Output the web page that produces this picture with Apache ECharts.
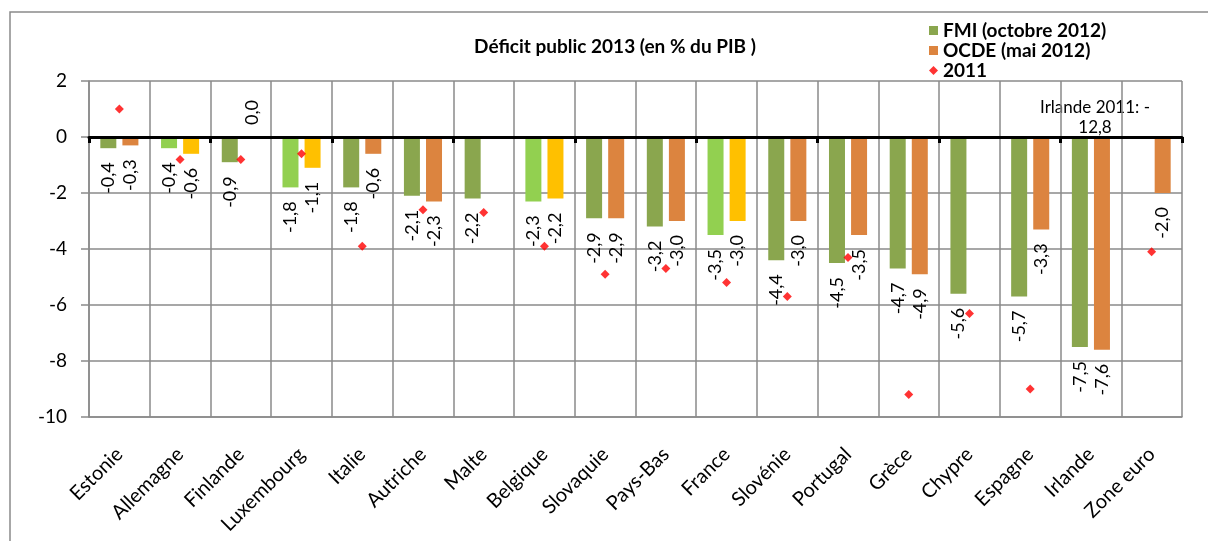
<!DOCTYPE html>
<html>
<head>
<meta charset="utf-8">
<script src="https://cdn.jsdelivr.net/npm/echarts@6/dist/echarts.min.js"></script>
<style>
  html, body { margin: 0; padding: 0; background: #fff; }
  #chart { width: 1208px; height: 541px; }
</style>
</head>
<body>
<div id="chart"></div>
<script>
const categories = ['Estonie', 'Allemagne', 'Finlande', 'Luxembourg', 'Italie', 'Autriche', 'Malte', 'Belgique',
  'Slovaquie', 'Pays-Bas', 'France', 'Slovénie', 'Portugal', 'Grèce', 'Chypre', 'Espagne', 'Irlande', 'Zone euro'];
const fmi = [-0.4, -0.4, -0.9, -1.8, -1.8, -2.1, -2.2, -2.3, -2.9, -3.2, -3.5, -4.4, -4.5, -4.7, -5.6, -5.7, -7.5, null];
const ocde = [-0.3, -0.6, 0.0, -1.1, -0.6, -2.3, null, -2.2, -2.9, -3.0, -3.0, -3.0, -3.5, -4.9, null, -3.3, -7.6, -2.0];
const deficit2011 = [1.0, -0.8, -0.8, -0.6, -3.9, -2.6, -2.7, -3.9, -4.9, -4.7, -5.2, -5.7, -4.3, -9.2, -6.3, -9.0, null, -4.1];
const yTicks = { min: -10, max: 2, interval: 2 };

// countries drawn with the lighter colours in the original
const highlighted = ['Allemagne', 'Luxembourg', 'Belgique', 'France'];

const FONT = 'Lato';
const OLIVE = '#8aa64e', ORANGE = '#dc843f', LIGHT_GREEN = '#92d050', GOLD = '#ffc000';

const fmt = v => v.toFixed(1).replace('.', ',');

const barLabel = {
  show: true,
  position: 'bottom',
  rotate: 90,
  align: 'right',
  verticalAlign: 'middle',
  distance: 14,
  color: '#000',
  fontFamily: FONT,
  fontSize: 18,
  formatter: p => fmt(p.value)
};

const toBarData = (values, base, light) => values.map((v, i) => {
  if (v === null) return null;
  const item = { value: v, itemStyle: { color: highlighted.includes(categories[i]) ? light : base } };
  if (v === 0) {
    item.label = { position: 'top', align: 'left', distance: 12 };
  }
  return item;
});

const chart = echarts.init(document.getElementById('chart'));

const option = {
  animation: false,
  title: {
    text: 'Déficit public 2013 (en % du PIB )',
    left: 610,
    top: 32,
    textAlign: 'center',
    textStyle: { fontFamily: FONT, fontSize: 19, fontWeight: 'bold', color: '#000' }
  },
  legend: {
    orient: 'vertical',
    left: 924,
    top: 16,
    itemWidth: 9,
    itemHeight: 9,
    itemGap: 1,
    textStyle: { fontFamily: FONT, fontSize: 19, fontWeight: 'bold', color: '#000' },
    data: [
      { name: 'FMI (octobre 2012)', icon: 'rect' },
      { name: 'OCDE (mai 2012)', icon: 'rect' },
      { name: '2011', icon: 'diamond' }
    ]
  },
  grid: { left: 89, right: 26, top: 81, bottom: 124 },
  xAxis: [
    {
      type: 'category',
      data: categories,
      axisLine: { onZero: false, lineStyle: { color: '#8a8a8a', width: 1.5 } },
      axisTick: { show: false },
      splitLine: { show: true, lineStyle: { color: '#8a8a8a', width: 1.5 } },
      axisLabel: {
        interval: 0,
        rotate: 45,
        margin: 34,
        color: '#000',
        fontFamily: FONT,
        fontSize: 20
      }
    },
    {
      // thick zero line with its small ticks
      type: 'category',
      data: categories,
      position: 'top',
      z: 5,
      axisLine: { onZero: true, lineStyle: { color: '#000', width: 3 } },
      axisTick: { show: true, inside: true, length: 6, lineStyle: { color: '#000', width: 3 } },
      axisLabel: { show: false },
      splitLine: { show: false }
    }
  ],
  yAxis: {
    type: 'value',
    min: yTicks.min,
    max: yTicks.max,
    interval: yTicks.interval,
    axisLine: { show: true, lineStyle: { color: '#8a8a8a', width: 1.5 } },
    axisTick: { show: true, length: 8, lineStyle: { color: '#8a8a8a', width: 1.5 } },
    splitLine: { lineStyle: { color: '#8a8a8a', width: 1.5 } },
    axisLabel: { margin: 22, color: '#000', fontFamily: FONT, fontSize: 19 }
  },
  series: [
    {
      name: 'FMI (octobre 2012)',
      type: 'bar',
      barWidth: 16,
      barGap: '38%',
      itemStyle: { color: OLIVE },
      label: barLabel,
      data: toBarData(fmi, OLIVE, LIGHT_GREEN)
    },
    {
      name: 'OCDE (mai 2012)',
      type: 'bar',
      barWidth: 16,
      itemStyle: { color: ORANGE },
      label: barLabel,
      data: toBarData(ocde, ORANGE, GOLD)
    },
    {
      name: '2011',
      type: 'scatter',
      symbol: 'diamond',
      symbolSize: 9,
      z: 6,
      itemStyle: { color: '#ff0000' },
      data: deficit2011
    }
  ],
  graphic: [
    {
      type: 'rect',
      shape: { x: 10, y: 12, width: 1220, height: 560 },
      style: { fill: 'none', stroke: '#8a8a8a', lineWidth: 1.5 },
      z: -1
    },
    {
      type: 'text',
      x: 1095,
      y: 98,
      style: {
        text: 'Irlande 2011: -\n12,8',
        align: 'center',
        fill: '#000',
        font: '17px Lato',
        lineHeight: 20
      }
    }
  ]
};

chart.setOption(option);
</script>
</body>
</html>
